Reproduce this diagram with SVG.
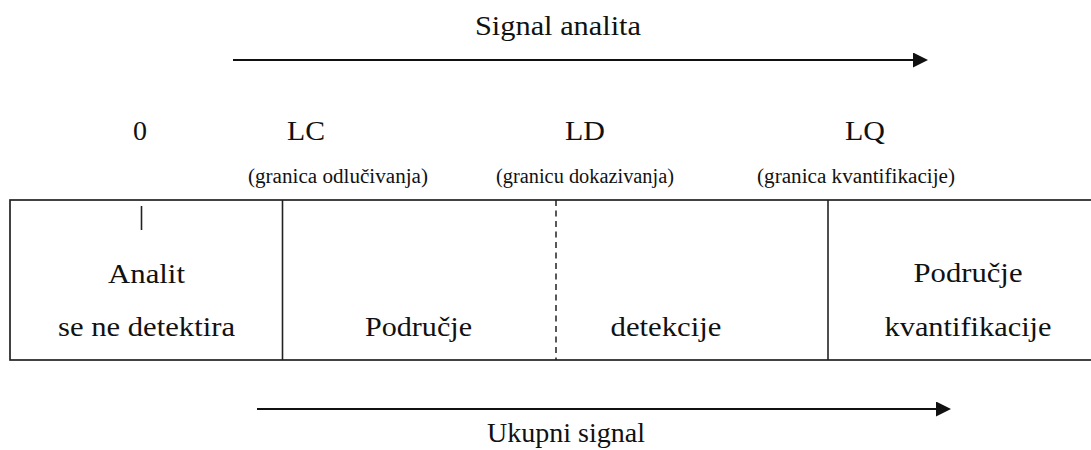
<svg xmlns="http://www.w3.org/2000/svg" width="1091" height="450" viewBox="0 0 1091 450">
<style>
text { font-family: "Liberation Serif", "Times New Roman", serif; fill: #111; text-anchor: middle; }
.big { font-size: 28px; }
.small { font-size: 20px; }
.box { fill: none; stroke: #222; stroke-width: 1.7; }
.div { stroke: #222; stroke-width: 1.6; }
.dash { stroke: #222; stroke-width: 1.5; stroke-dasharray: 6 4.5; }
.arrow { stroke: #111; stroke-width: 2; fill: none; }
</style>
<defs>
<marker id="ah" markerUnits="userSpaceOnUse" markerWidth="16" markerHeight="16" refX="0" refY="7.5" orient="auto">
<path d="M0,0 L15,7.5 L0,15 z" fill="#111"/>
</marker>
</defs>
<rect width="1091" height="450" fill="#fff"/>

<g id="connectors">
<line class="arrow" x1="233" y1="60" x2="913" y2="60" marker-end="url(#ah)"/>
<line class="arrow" x1="257" y1="409" x2="936" y2="409" marker-end="url(#ah)"/>
</g>

<g id="title-top"><text class="big" x="558" y="35" textLength="166" lengthAdjust="spacingAndGlyphs">Signal analita</text></g>
<g id="title-bottom"><text class="big" x="566" y="442" textLength="158" lengthAdjust="spacingAndGlyphs">Ukupni signal</text></g>

<g id="mark-0"><text class="big" x="140" y="140" textLength="14" lengthAdjust="spacingAndGlyphs">0</text></g>
<g id="mark-LC">
<text class="big" x="306" y="140" textLength="38" lengthAdjust="spacingAndGlyphs">LC</text>
<text class="small" x="338" y="183" textLength="180" lengthAdjust="spacingAndGlyphs">(granica odlučivanja)</text>
</g>
<g id="mark-LD">
<text class="big" x="585" y="140" textLength="40" lengthAdjust="spacingAndGlyphs">LD</text>
<text class="small" x="585" y="183" textLength="178" lengthAdjust="spacingAndGlyphs">(granicu dokazivanja)</text>
</g>
<g id="mark-LQ">
<text class="big" x="865" y="140" textLength="40" lengthAdjust="spacingAndGlyphs">LQ</text>
<text class="small" x="856" y="183" textLength="198" lengthAdjust="spacingAndGlyphs">(granica kvantifikacije)</text>
</g>

<g id="scale-box">
<rect class="box" x="10" y="200" width="1090" height="160"/>
<line class="div" x1="141.5" y1="206" x2="141.5" y2="230"/>
<line class="div" x1="282.5" y1="200" x2="282.5" y2="360"/>
<line class="dash" x1="556" y1="200" x2="556" y2="360"/>
<line class="div" x1="828" y1="200" x2="828" y2="360"/>
</g>

<g id="region-not-detected">
<text class="big" x="146.5" y="283" textLength="77" lengthAdjust="spacingAndGlyphs">Analit</text>
<text class="big" x="146.5" y="336" textLength="177" lengthAdjust="spacingAndGlyphs">se ne detektira</text>
</g>
<g id="region-detection">
<text class="big" x="418.5" y="336" textLength="107" lengthAdjust="spacingAndGlyphs">Područje</text>
<text class="big" x="666" y="336" textLength="111" lengthAdjust="spacingAndGlyphs">detekcije</text>
</g>
<g id="region-quantification">
<text class="big" x="968" y="282" textLength="109" lengthAdjust="spacingAndGlyphs">Područje</text>
<text class="big" x="968" y="336" textLength="167" lengthAdjust="spacingAndGlyphs">kvantifikacije</text>
</g>
</svg>
